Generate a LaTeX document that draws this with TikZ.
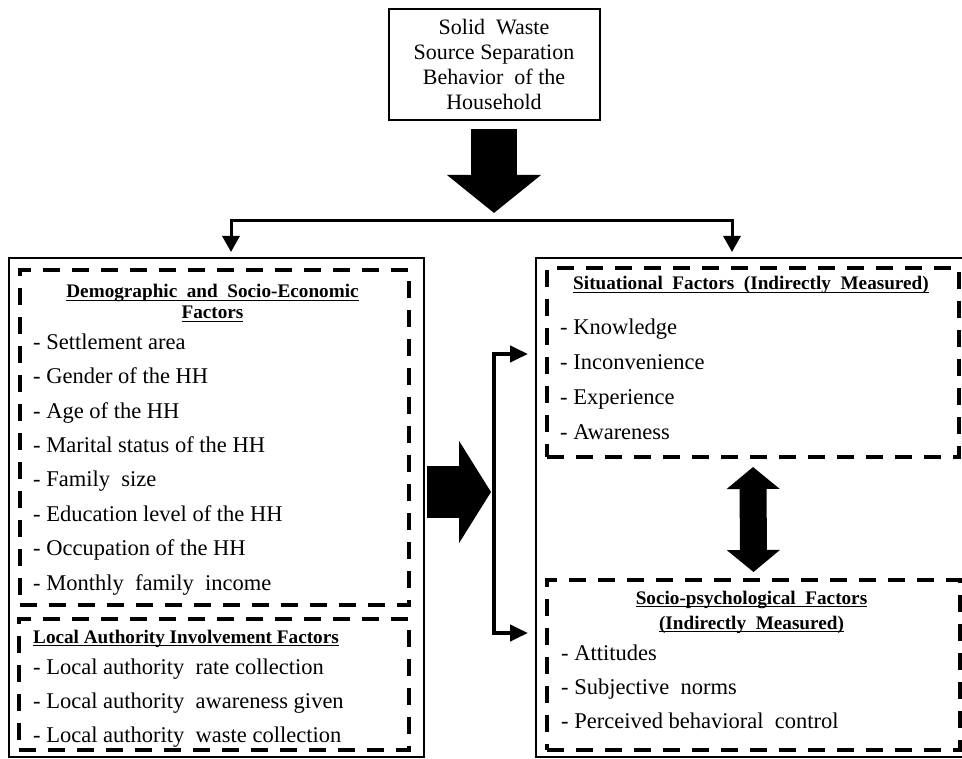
\documentclass[tikz,border=0pt]{standalone}
\usepackage{fontspec}
\setmainfont{Liberation Serif}
\usetikzlibrary{arrows.meta,positioning}
\newcommand\ulfac[1]{\setbox0\hbox{#1}\rlap{\rule[-2.8pt]{\wd0}{1.2pt}}\box0}
\tikzset{
  outerbox/.style={draw, line width=2.2pt, anchor=north west, inner sep=0pt},
  dashbox/.style={draw, line width=4pt, dash pattern=on 17pt off 12pt, anchor=north west, inner sep=0pt},
  itemlist/.style={anchor=base west, align=left, inner sep=0pt, font=\fontsize{22.5}{34.4}\selectfont},
  factitle/.style={inner sep=0pt, font=\bfseries\fontsize{19.2}{21}\selectfont},
  tbar/.style={line width=3pt, {Triangle[width=17pt,length=16pt]}-{Triangle[width=17pt,length=16pt]}},
  bracketline/.style={line width=4pt, {Triangle[width=16pt,length=18pt]}-{Triangle[width=16pt,length=18pt]}},
  blockdown/.style={line width=46pt, -{Triangle[width=92pt,length=38pt]}},
  blockright/.style={line width=52pt, -{Triangle[width=101pt,length=32pt]}},
  blockboth/.style={line width=27pt, {Triangle[width=52pt,length=22pt]}-{Triangle[width=52pt,length=22pt]}}
}
\begin{document}
\begin{tikzpicture}[x=1pt,y=-1pt]
  \clip (0,0) rectangle (962,759);
  \node[draw, line width=2pt, minimum width=211pt, minimum height=111pt, inner sep=0pt,
        align=center, font=\fontsize{22}{24.7}\selectfont] (household) at (494,64.5)
    {Solid\ \ Waste\\Source Separation\\Behavior\ \ of the\\Household};

  \node[outerbox, minimum width=415pt, minimum height=499pt] (leftpanel) at (8,257) {};
  \node[outerbox, minimum width=440pt, minimum height=499pt] (rightpanel) at (535,257) {};
  \node[dashbox, minimum width=389pt, minimum height=335pt] (demobox) at (18,268) {};
  \node[dashbox, minimum width=390pt, minimum height=131pt] (localbox) at (17,617) {};
  \node[dashbox, minimum width=412pt, minimum height=189pt] (sitbox) at (545,266) {};
  \node[dashbox, minimum width=413pt, minimum height=170pt] (sociobox) at (545,578) {};

  \node[factitle, align=center, anchor=base] (demotitle) at (212.5,319)
    {\ulfac{Demographic\ \ and\ \ Socio-Economic}\\\ulfac{Factors}};
  \node[itemlist] (demoitems) at (33,590)
    {- Settlement area\\- Gender of the HH\\- Age of the HH\\- Marital status of the HH\\
     - Family\ \ size\\- Education level of the HH\\- Occupation of the HH\\- Monthly\ \ family\ \ income};
  \node[factitle, anchor=base west] (localtitle) at (33,643)
    {\ulfac{Local Authority Involvement Factors}};
  \node[itemlist, font=\fontsize{22.5}{34}\selectfont] (localitems) at (33,742)
    {- Local authority\ \ rate collection\\- Local authority\ \ awareness given\\- Local authority\ \ waste collection};
  \node[factitle, anchor=base] (sittitle) at (751,290)
    {\ulfac{Situational\ \ Factors\ \ (Indirectly\ \ Measured)}};
  \node[itemlist, font=\fontsize{22.5}{34.7}\selectfont] (sititems) at (560,439)
    {- Knowledge\\- Inconvenience\\- Experience\\- Awareness};
  \node[factitle, align=center, anchor=base, font=\bfseries\fontsize{19.2}{25}\selectfont] (sociotitle) at (751.5,629)
    {\ulfac{Socio-psychological\ \ Factors}\\\ulfac{(Indirectly\ \ Measured)}};
  \node[itemlist, font=\fontsize{22.5}{34}\selectfont] (socioitems) at (561,728)
    {- Attitudes\\- Subjective\ \ norms\\- Perceived behavioral\ \ control};

  \coordinate (split) at (494,221);
  \coordinate (lefttip) at (231,252);
  \coordinate (righttip) at (732,252);
  \coordinate (brtop) at (494,354);
  \coordinate (brbot) at (494,633);
  \draw[blockdown] ([yshift=-8pt]household.south) -- ([yshift=8pt]split);
  \draw[tbar] (lefttip) |- (split) -| (righttip);
  \draw[blockright] (427,492) -- (491,492);
  \draw[bracketline] (528,354) -- (brtop) -- (brbot) -- (528,633);
  \draw[blockboth] ([yshift=-8pt]sitbox.south) -- ([yshift=6pt]sociobox.north);
\end{tikzpicture}
\end{document}
